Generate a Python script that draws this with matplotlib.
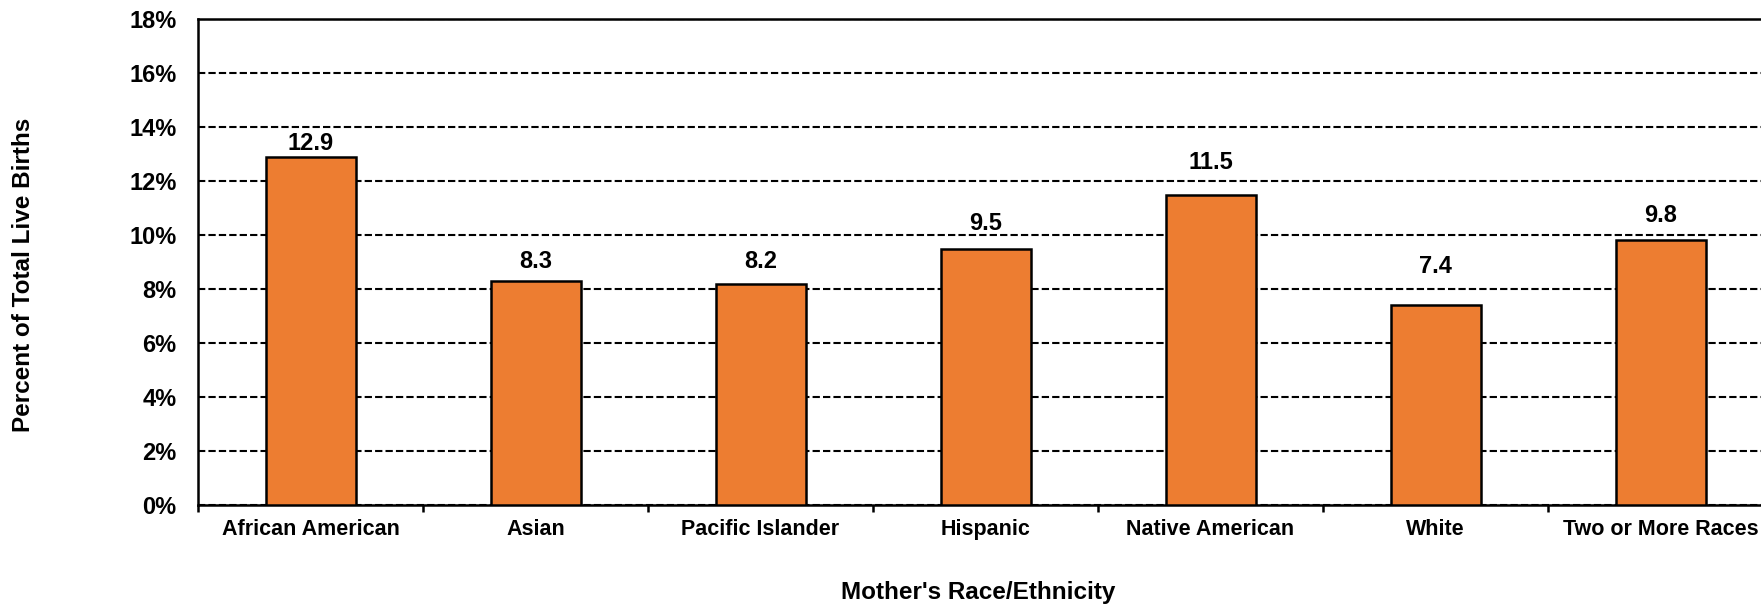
import numpy as np
import matplotlib
matplotlib.use("Agg")
import matplotlib.pyplot as plt
from matplotlib.ticker import FuncFormatter, FixedLocator

plt.rcParams['font.family'] = ['Liberation Sans', 'DejaVu Sans']
plt.rcParams['font.weight'] = 'bold'

# data
categories = ["African American", "Asian", "Pacific Islander", "Hispanic",
              "Native American", "White", "Two or More Races"]
values = [12.9, 8.3, 8.2, 9.5, 11.5, 7.4, 9.8]

# label gap above each bar (pixels), as placed in the original
label_gap_px = [13, 19, 22, 25, 32, 39, 25]

fig = plt.figure(figsize=(17.61, 6.07), dpi=100)
ax = fig.add_axes([198 / 1761, 1 - 505 / 607, 1575 / 1761, 486 / 607])

x = np.arange(len(categories))
bars = ax.bar(x, values, width=0.4, color='#ED7D31', edgecolor='black',
              linewidth=1.8, zorder=3)

for xi, v, gap in zip(x, values, label_gap_px):
    ax.annotate(f"{v:.1f}", (xi, v), xytext=(0, gap * 72 / 100),
                textcoords='offset points', ha='center', va='center',
                fontsize=17, fontweight='bold')

ax.set_xlim(-0.5, len(categories) - 0.5)
ax.set_ylim(0, 18)
ax.set_yticks(np.arange(0, 19, 2))
ax.yaxis.set_major_formatter(FuncFormatter(lambda v, p: f"{v:.0f}%"))
ax.tick_params(axis='y', length=0, labelsize=17, pad=15.5)

# category boundaries get outward ticks, centres small inward ticks
ax.xaxis.set_major_locator(FixedLocator(np.arange(-0.5, len(categories), 1.0)))
ax.xaxis.set_major_formatter(FuncFormatter(lambda v, p: ""))
ax.xaxis.set_minor_locator(FixedLocator(x))
ax.set_xticklabels(categories, minor=True)
ax.tick_params(axis='x', which='major', direction='out', length=5, width=1.8)
ax.tick_params(axis='x', which='minor', direction='in', length=3, width=1.8,
               labelsize=15.5, pad=10)

ax.yaxis.grid(True, color='black', linestyle=(0, (3.5, 1.5)), linewidth=1.5,
              zorder=0)
for s in ['left', 'bottom', 'top', 'right']:
    ax.spines[s].set_color('black')
    ax.spines[s].set_linewidth(1.8)

fig.text(24 / 1761, 1 - 275 / 607, "Percent of Total Live Births",
         rotation=90, ha='center', va='center', fontsize=17.5,
         fontweight='bold')
fig.text(978 / 1761, 1 - 592 / 607, "Mother's Race/Ethnicity",
         ha='center', va='center', fontsize=17.5, fontweight='bold')

fig.savefig("out.png", dpi=100)
